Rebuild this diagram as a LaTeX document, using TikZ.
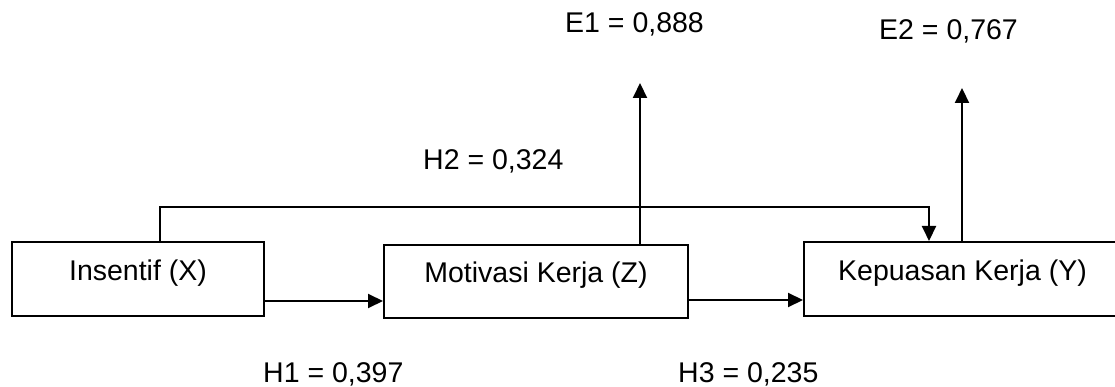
\documentclass[tikz,border=0pt]{standalone}
\usepackage{fontspec}
\setmainfont{Liberation Sans}
\usetikzlibrary{arrows.meta}
\begin{document}
\begin{tikzpicture}[x=1pt,y=-1pt,
  every node/.style={font=\fontsize{28.5}{34}\selectfont},
  box/.style={draw, line width=2pt, inner sep=0pt, text height=21pt, text depth=19pt},
  arr/.style={line width=2pt, -{Triangle[length=15pt,width=14pt]}},
  lbl/.style={inner sep=0pt, anchor=base west}]
\useasboundingbox (0,0) rectangle (1115,387);
\node[box, minimum width=252pt, minimum height=74pt] (X) at (138,279) {Insentif (X)};
\node[box, minimum width=304pt, minimum height=73pt] (Z) at (536,281.5) {Motivasi Kerja (Z)};
\node[box, minimum width=317pt, minimum height=74pt] (Y) at (962.5,279) {Kepuasan Kerja (Y)};
\coordinate (e1) at (640,83);
\coordinate (e2) at (962,88);
\coordinate (h2a) at (160,207);
\coordinate (h2b) at (929,207);
\draw[arr] (X.east |- 0,301) -- (Z.west |- 0,301);
\draw[arr] (Z.east |- 0,300) -- (Y.west |- 0,300);
\draw[arr] (X.north -| h2a) -- (h2a) -- (h2b) -- (Y.north -| h2b);
\draw[arr] (Z.north -| e1) -- (e1);
\draw[arr] (Y.north -| e2) -- (e2);
\node[lbl] (E1) at (565,33) {E1 = 0,888};
\node[lbl] (E2) at (879,40) {E2 = 0,767};
\node[lbl] (H2) at (423,170) {H2 = 0,324};
\node[lbl] (H1) at (263,382) {H1 = 0,397};
\node[lbl] (H3) at (678,382) {H3 = 0,235};
\end{tikzpicture}
\end{document}
